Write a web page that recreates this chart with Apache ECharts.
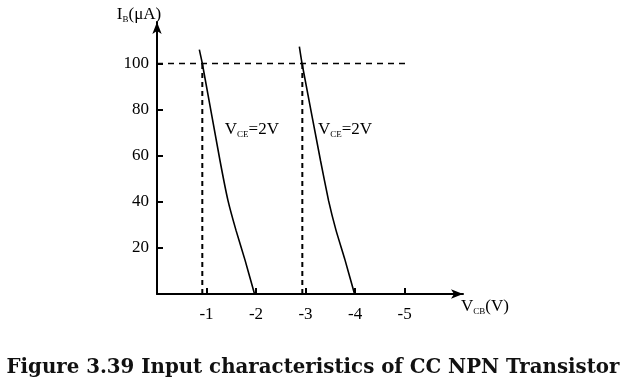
<!DOCTYPE html>
<html>
<head>
<meta charset="utf-8">
<script src="https://cdn.jsdelivr.net/npm/echarts@6/dist/echarts.min.js"></script>
<style>
html,body{margin:0;padding:0;background:#fff;}
#chart{width:626px;height:387px;}
</style>
</head>
<body>
<div id="chart"></div>
<script>
// Tick labels
const xTicks = [-1, -2, -3, -4, -5];
const yTicks = [20, 40, 60, 80, 100];

// Curve 1 (VCE = 2V, left)
const curve1V = [-0.855, -0.915, -1.273, -1.434, -1.596, -1.778, -1.97];
const curve1I = [106, 100, 57.8, 40.5, 27.6, 14.7, 0];
// Curve 2 (VCE = 2V, right)
const curve2V = [-2.875, -2.929, -3.303, -3.465, -3.616, -3.798, -3.99];
const curve2I = [107.3, 100, 57.8, 40.5, 27.6, 14.7, 0];

// Reference (dashed) lines
const refIB = 100;
const refIBEndV = -5.1;
const refV1 = -0.915;
const refV2 = -2.935;

// Curve label anchors [V, IB]
const label1At = [-1.37, 71.5];
const label2At = [-3.25, 71.5];
const curveLabelText = '{m|V}{s|CE}{m|=2V}';

const serif = 'Liberation Serif';
const rich = {
  m: { fontFamily: serif, fontSize: 17, color: '#000', lineHeight: 19 },
  s: { fontFamily: serif, fontSize: 9, color: '#000', verticalAlign: 'bottom', lineHeight: 12 }
};

const zip = (a, b) => a.map((v, i) => [v, b[i]]);

const chart = echarts.init(document.getElementById('chart'));
const dashStyle = { color: '#000', width: 1.6, type: [6, 5] };
const vdashStyle = { color: '#000', width: 2, type: [5, 4] };

chart.setOption({
  animation: false,
  backgroundColor: '#fff',
  title: {
    text: 'Figure 3.39 Input characteristics of CC NPN Transistor',
    left: 'center',
    top: 353,
    textStyle: { fontFamily: 'DejaVu Serif', fontWeight: 'bold', fontSize: 19.8, color: '#111' }
  },
  grid: { left: 157, right: 163, top: 22, bottom: 93, containLabel: false },
  xAxis: {
    type: 'value',
    inverse: true,
    min: -6.18,
    max: 0,
    name: '{m|V}{s|CB}{m|(V)}',
    nameLocation: 'start',
    nameGap: -2,
    nameTextStyle: { rich: rich, verticalAlign: 'top', padding: [3, 0, 0, 0] },
    axisLine: { show: true, onZero: false, lineStyle: { color: '#000', width: 2 }, symbol: ['none', 'arrow'], symbolSize: [7, 12] },
    axisTick: { show: true, inside: true, length: 6, customValues: xTicks, lineStyle: { color: '#000', width: 2 } },
    axisLabel: { customValues: xTicks, fontFamily: serif, fontSize: 17, color: '#000', margin: 12 },
    splitLine: { show: false }
  },
  yAxis: {
    type: 'value',
    min: 0,
    max: 118,
    name: '{m|I}{s|B}{m|(μA)}',
    nameLocation: 'end',
    nameGap: -2,
    nameTextStyle: { rich: rich, align: 'center', padding: [0, 36, 0, 0] },
    axisLine: { show: true, onZero: false, lineStyle: { color: '#000', width: 2 }, symbol: ['none', 'arrow'], symbolSize: [7, 12] },
    axisTick: { show: true, inside: true, length: 6, customValues: yTicks, lineStyle: { color: '#000', width: 2 } },
    axisLabel: { customValues: yTicks, fontFamily: serif, fontSize: 17, color: '#000', margin: 8 },
    splitLine: { show: false }
  },
  series: [
    {
      type: 'line', data: zip(curve1V, curve1I), symbol: 'none', smooth: 0.15,
      lineStyle: { color: '#000', width: 1.6 },
      markPoint: {
        symbol: 'circle', symbolSize: 0,
        label: { show: true, position: 'right', distance: 0, formatter: curveLabelText, rich: rich },
        data: [{ coord: label1At }]
      }
    },
    {
      type: 'line', data: zip(curve2V, curve2I), symbol: 'none', smooth: 0.15,
      lineStyle: { color: '#000', width: 1.6 },
      markPoint: {
        symbol: 'circle', symbolSize: 0,
        label: { show: true, position: 'right', distance: 0, formatter: curveLabelText, rich: rich },
        data: [{ coord: label2At }]
      }
    },
    { type: 'line', data: [[0, refIB], [refIBEndV, refIB]], symbol: 'none', lineStyle: dashStyle },
    { type: 'line', data: [[refV1, 0], [refV1, refIB]], symbol: 'none', lineStyle: vdashStyle },
    { type: 'line', data: [[refV2, 0], [refV2, refIB]], symbol: 'none', lineStyle: vdashStyle }
  ]
});
</script>
</body>
</html>
